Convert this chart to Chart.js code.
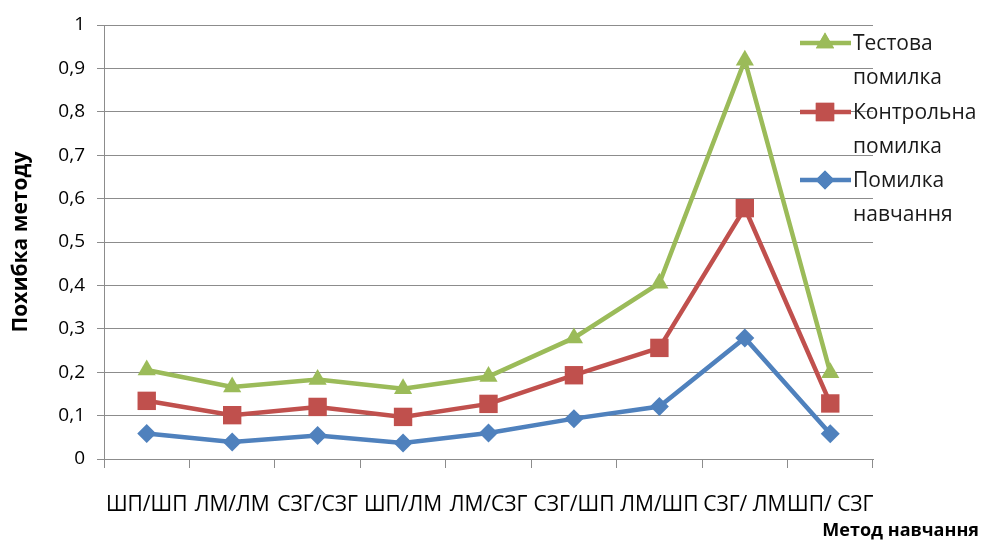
<!DOCTYPE html>
<html>
<head>
<meta charset="utf-8">
<script src="https://cdn.jsdelivr.net/npm/chart.js@4/dist/chart.umd.min.js"></script>
<style>
  html, body { margin: 0; padding: 0; background: #fff; }
  #wrap { width: 981px; height: 541px; }
</style>
</head>
<body>
<div id="wrap"><canvas id="myChart" width="981" height="541"></canvas></div>
<script>
'use strict';

// data
const methods = ['ШП/ШП', 'ЛМ/ЛМ', 'СЗГ/СЗГ', 'ШП/ЛМ', 'ЛМ/СЗГ', 'СЗГ/ШП', 'ЛМ/ШП', 'СЗГ/ ЛМ', 'ШП/ СЗГ'];
const testError = [0.205, 0.166, 0.183, 0.162, 0.19, 0.279, 0.405, 0.919, 0.199];
const controlError = [0.134, 0.101, 0.12, 0.097, 0.127, 0.193, 0.256, 0.578, 0.128];
const trainError = [0.059, 0.039, 0.054, 0.037, 0.06, 0.093, 0.121, 0.279, 0.058];
const seriesNames = [['Тестова', 'помилка'], ['Контрольна', 'помилка'], ['Помилка', 'навчання']];

const FONT = "'Open Sans', 'Liberation Sans', sans-serif";
const GREEN = '#9BBB59', RED = '#C0504D', BLUE = '#4F81BD';
const GRID = '#8c8c8c';

// legend + x title drawn by hand (two-line labels like the original)
const sideLegend = {
    id: 'sideLegend',
    afterDraw(chart) {
        const ctx = chart.ctx;
        const ys = [43, 112, 180];
        ctx.save();
        ys.forEach((y, i) => {
            const ds = chart.data.datasets[i];
            ctx.strokeStyle = ds.borderColor;
            ctx.lineWidth = 4.5;
            ctx.beginPath();
            ctx.moveTo(800, y);
            ctx.lineTo(851, y);
            ctx.stroke();
            ctx.fillStyle = ds.borderColor;
            Chart.helpers.drawPoint(ctx, {pointStyle: ds.pointStyle, radius: ds.pointRadius, borderWidth: 0}, 825, y);
            ctx.fill();
            ctx.fillStyle = '#1a1a1a';
            ctx.font = '21px ' + FONT;
            ctx.textBaseline = 'middle';
            ctx.textAlign = 'left';
            ctx.fillText(seriesNames[i][0], 853, y + 1);
            ctx.fillText(seriesNames[i][1], 853, y + 35);
        });
        ctx.font = 'bold 18px ' + FONT;
        ctx.fillStyle = '#000';
        ctx.textAlign = 'right';
        ctx.fillText('Метод навчання', 979, 531);
        ctx.restore();
    }
};

function main() {
    new Chart('myChart', {
        type: 'line',
        data: {
            labels: methods,
            datasets: [
                { label: 'Тестова помилка', data: testError, borderColor: GREEN, backgroundColor: GREEN,
                  pointStyle: 'triangle', pointRadius: 10.5 },
                { label: 'Контрольна помилка', data: controlError, borderColor: RED, backgroundColor: RED,
                  pointStyle: 'rect', pointRadius: 13 },
                { label: 'Помилка навчання', data: trainError, borderColor: BLUE, backgroundColor: BLUE,
                  pointStyle: 'rectRot', pointRadius: 9.5 }
            ].map(d => Object.assign(d, { borderWidth: 4.5, pointBorderWidth: 0, pointHoverRadius: d.pointRadius, tension: 0 }))
        },
        options: {
            responsive: false,
            animation: false,
            layout: { padding: { left: 0, right: 108, top: 25, bottom: 0 } },
            plugins: {
                legend: { display: false },
                tooltip: { enabled: false }
            },
            scales: {
                x: {
                    offset: true,
                    grid: { offset: true, drawOnChartArea: false, color: GRID, tickLength: 9, tickColor: GRID },
                    border: { color: GRID, width: 1 },
                    ticks: { color: '#000', font: { family: FONT, size: 21 }, padding: 24, maxRotation: 0, autoSkip: false },
                    afterFit: (scale) => { scale.height = 82; }
                },
                y: {
                    min: 0, max: 1,
                    ticks: {
                        stepSize: 0.1, color: '#000', padding: 12,
                        font: { family: FONT, size: 19 },
                        callback: (v) => (Math.round(v * 10) / 10).toString().replace('.', ',')
                    },
                    grid: { color: GRID, tickLength: 7, tickColor: GRID },
                    border: { color: GRID, width: 1 },
                    title: { display: true, text: 'Похибка методу', color: '#000',
                             font: { family: FONT, size: 21, weight: 'bold' }, padding: { top: 8, bottom: 0 } },
                    afterFit: (scale) => { scale.width = 104; }
                }
            }
        },
        plugins: [sideLegend]
    });
}

main();
</script>
</body>
</html>
